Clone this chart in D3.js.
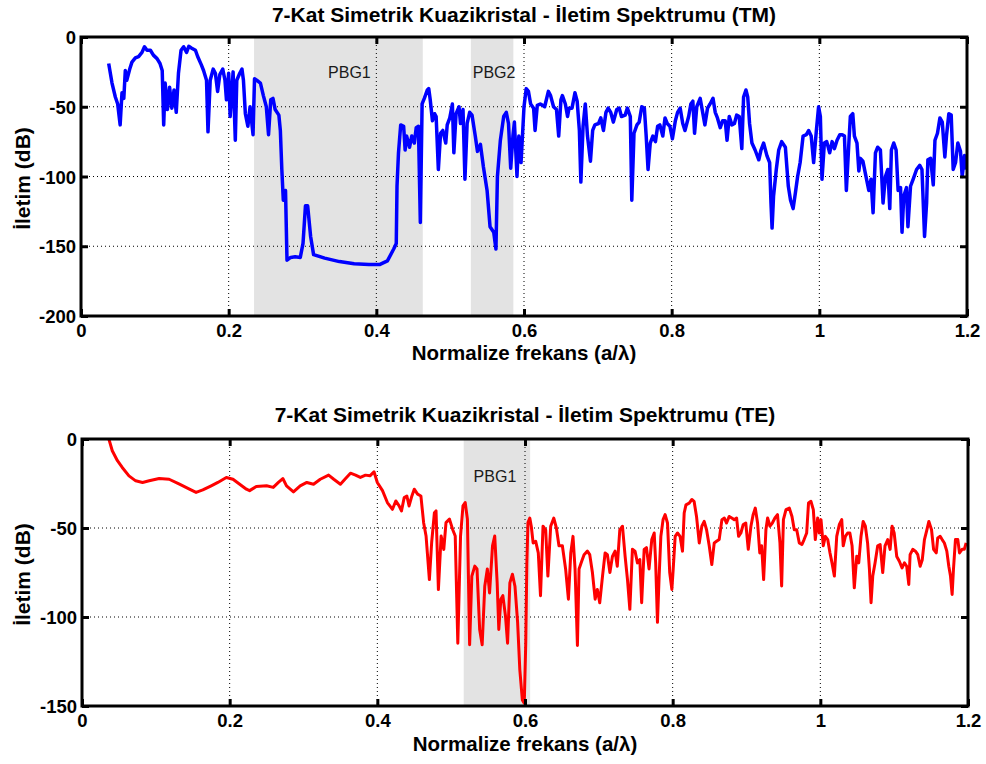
<!DOCTYPE html>
<html>
<head>
<meta charset="utf-8">
<script src="https://cdn.jsdelivr.net/npm/d3@7"></script>
<style>
  html, body { margin: 0; padding: 0; background: #fff; }
  svg { display: block; }
  text { font-family: "Liberation Sans", Arial, Helvetica, sans-serif; }
</style>
</head>
<body>
<svg id="chart" width="986" height="764"></svg>
<script>
// ---------------- DATA ----------------
const xTickValues = [0, 0.2, 0.4, 0.6, 0.8, 1, 1.2];
const xTickLabels = ["0", "0.2", "0.4", "0.6", "0.8", "1", "1.2"];
const tmYTicks = [0, -50, -100, -150, -200];
const teYTicks = [0, -50, -100, -150];

const tmTitle = "7-Kat Simetrik Kuazikristal - İletim Spektrumu (TM)";
const teTitle = "7-Kat Simetrik Kuazikristal - İletim Spektrumu (TE)";
const xLabel = "Normalize frekans (a/λ)";
const yLabel = "İletim (dB)";

// photonic band gap regions
const tmBandNames = ["PBG1", "PBG2"];
const tmBandStart = [0.2344, 0.528];
const tmBandEnd = [0.4629, 0.5856];
const teBandNames = ["PBG1"];
const teBandStart = [0.517];
const teBandEnd = [0.607];

// TM transmission spectrum
const tmFreq = [
  0.0375,0.042,0.0465,0.0497,0.053,0.0555,0.058,0.060,0.062,0.066,
  0.069,0.0736,0.078,0.0826,0.086,0.0894,0.094,0.098,0.103,0.107,
  0.110,0.112,0.114,0.117,0.120,0.123,0.126,0.129,0.132,0.1355,
  0.139,0.143,0.146,0.150,0.155,0.158,0.163,0.166,0.170,0.172,
  0.175,0.179,0.182,0.185,0.188,0.192,0.195,0.197,0.200,0.202,
  0.206,0.209,0.211,0.215,0.218,0.220,0.2226,0.226,0.229,0.233,
  0.235,0.238,0.243,0.247,0.251,0.254,0.257,0.260,0.263,0.268,
  0.270,0.272,0.274,0.277,0.279,0.284,0.290,0.297,0.3007,0.304,
  0.307,0.311,0.315,0.330,0.350,0.370,0.390,0.405,0.415,0.4235,
  0.427,0.428,0.430,0.433,0.437,0.439,0.441,0.445,0.448,0.4515,
  0.454,0.457,0.4596,0.462,0.465,0.469,0.471,0.473,0.476,0.479,
  0.481,0.484,0.487,0.490,0.494,0.496,0.4995,0.503,0.505,0.508,
  0.512,0.514,0.5174,0.520,0.523,0.5264,0.5296,0.534,0.537,0.541,
  0.545,0.550,0.554,0.559,0.562,0.564,0.568,0.5725,0.576,0.579,
  0.582,0.585,0.587,0.5905,0.593,0.596,0.600,0.603,0.606,0.609,
  0.613,0.615,0.618,0.622,0.625,0.628,0.633,0.636,0.640,0.644,
  0.647,0.650,0.652,0.656,0.659,0.661,0.665,0.669,0.672,0.675,
  0.677,0.680,0.683,0.686,0.690,0.693,0.696,0.701,0.704,0.7076,
  0.711,0.714,0.7175,0.721,0.7256,0.729,0.732,0.737,0.740,0.744,
  0.746,0.749,0.753,0.756,0.7595,0.763,0.7655,0.768,0.771,0.7745,
  0.778,0.781,0.784,0.788,0.791,0.794,0.7976,0.801,0.805,0.808,
  0.8115,0.815,0.818,0.823,0.826,0.8287,0.831,0.834,0.8386,0.842,
  0.845,0.8486,0.852,0.856,0.859,0.862,0.8658,0.869,0.8725,0.875,
  0.878,0.8816,0.885,0.888,0.8915,0.895,0.8974,0.9006,0.903,0.9055,
  0.9087,0.913,0.918,0.921,0.9245,0.929,0.9327,0.9345,0.936,0.938,
  0.9417,0.945,0.949,0.954,0.958,0.961,0.9645,0.9675,0.9706,0.974,
  0.978,0.9824,0.9855,0.989,0.9923,0.996,0.999,1.0014,1.0036,1.0068,
  1.010,1.014,1.0173,1.0205,1.024,1.0277,1.031,1.034,1.0366,1.040,
  1.042,1.0453,1.0475,1.051,1.0535,1.0556,1.059,1.0624,1.067,1.070,
  1.0728,1.076,1.079,1.0827,1.0863,1.0895,1.0927,1.0954,1.0976,1.1008,
  1.104,1.1067,1.110,1.112,1.1144,1.118,1.120,1.1235,1.127,1.1317,
  1.136,1.139,1.1425,1.1453,1.147,1.1507,1.1543,1.1566,1.160,1.1633,
  1.1665,1.170,1.1722,1.1754,1.1786,1.1813,1.1845,1.1876,1.1912,1.1935,
  1.1966,1.199
];
const tmDb = [
  -19,-33,-43,-48,-63,-40,-44,-24,-31,-23,
  -18,-15,-14,-11,-7,-9.5,-9.5,-13,-15.5,-19,
  -24,-63,-33,-52,-36,-51,-38,-54,-26,-9.5,
  -7,-11,-6.7,-8,-9.5,-14,-20,-24,-31,-68,
  -31,-23,-26,-39,-27,-23,-31,-45,-26,-57,
  -25,-74,-31,-26,-23,-31,-55,-64,-50,-70,
  -30,-31,-33,-42,-50,-70,-45,-44,-52,-56,
  -67,-95,-117,-110,-160,-158,-157.6,-158,-148,-121,
  -121,-143,-156,-158.5,-161,-162.5,-163,-163,-160.5,-152,
  -148,-107,-83,-63,-64,-81,-71,-79,-71,-76,
  -65,-64,-133,-48,-44,-38,-37,-45,-60,-55,
  -57,-95,-69,-67,-76,-63,-58,-48,-83,-55,
  -50,-62,-52,-102,-62,-54,-56,-71,-82,-77,
  -93,-110,-136,-140,-152,-100,-74,-57,-54,-62,
  -94,-71,-61,-100,-71,-90,-50,-37,-39,-48,
  -51,-67,-49,-48,-49,-50,-39,-42,-50,-52,
  -71,-45,-42,-48,-57,-51,-51,-40,-46,-67,
  -104,-64,-48,-71,-89,-67,-63,-62,-58,-67,
  -54,-51,-54,-61,-52,-51,-57,-56,-51,-57,
  -117,-69,-63,-61,-50,-51,-71,-95,-76,-71,
  -75,-64,-63,-71,-58,-62,-64,-73,-60,-54,
  -51,-62,-67,-57,-48,-46,-69,-50,-44,-54,
  -63,-51,-48,-44,-54,-58,-65,-60,-60,-74,
  -57,-63,-62,-56,-57,-80,-43,-38,-43,-62,
  -76,-81,-88,-81,-76,-85,-90,-119,-137,-114,
  -95,-81,-75,-79,-107,-117,-123,-112,-100,-90,
  -71,-70,-67,-71,-90,-67,-50,-57,-102,-76,
  -75,-83,-75,-80,-74,-70,-70,-71,-110,-76,
  -57,-55,-71,-76,-96,-87,-89,-98,-110,-102,
  -126,-83,-79,-81,-119,-100,-95,-123,-81,-76,
  -81,-110,-108,-140,-114,-108,-136,-107,-102,-95,
  -92,-95,-143,-119,-88,-87,-106,-74,-69,-58,
  -61,-86,-71,-55,-56,-95,-90,-76,-82,-100,
  -85,-95
];

// TE transmission spectrum
const teFreq = [
  0.0364,0.041,0.048,0.0545,0.0636,0.0727,0.082,0.091,0.1045,0.118,
  0.132,0.1455,0.1545,0.1636,0.175,0.184,0.1955,0.2045,0.2136,0.2227,
  0.227,0.236,0.250,0.259,0.266,0.272,0.277,0.2864,0.2955,0.3045,
  0.3136,0.3227,0.334,0.341,0.350,0.357,0.3636,0.3705,0.377,0.384,
  0.390,0.3955,0.400,0.407,0.4136,0.4205,0.425,0.4295,0.4327,0.4364,
  0.440,0.443,0.4468,0.450,0.4545,0.459,0.4627,0.466,0.4705,0.4736,
  0.4773,0.4795,0.4827,0.4864,0.490,0.493,0.4977,0.502,0.5055,0.509,
  0.5127,0.516,0.519,0.522,0.525,0.528,0.532,0.535,0.5386,0.542,
  0.5455,0.549,0.552,0.556,0.559,0.5623,0.5645,0.5673,0.570,0.5736,
  0.5764,0.5795,0.583,0.5864,0.590,0.593,0.5964,0.599,0.601,0.6025,
  0.604,0.6065,0.6085,0.611,0.6145,0.618,0.621,0.6244,0.628,0.631,
  0.6348,0.639,0.6425,0.646,0.6506,0.655,0.6588,0.662,0.665,0.6678,
  0.671,0.6732,0.6768,0.680,0.6845,0.6877,0.6913,0.695,0.698,0.7012,
  0.705,0.7085,0.7116,0.715,0.7184,0.722,0.725,0.7284,0.732,0.7356,
  0.7388,0.742,0.7455,0.749,0.7523,0.7555,0.758,0.7614,0.7645,0.768,
  0.7717,0.775,0.777,0.7794,0.7817,0.784,0.787,0.7898,0.793,0.796,
  0.7989,0.8007,0.8034,0.8066,0.810,0.8133,0.8156,0.818,0.8224,0.826,
  0.829,0.8323,0.836,0.8395,0.8427,0.8459,0.8495,0.853,0.8563,0.8594,
  0.863,0.8667,0.870,0.873,0.8766,0.880,0.8834,0.8866,0.8893,0.8924,
  0.8956,0.899,0.9024,0.906,0.909,0.9119,0.915,0.918,0.9205,0.9232,
  0.9263,0.9286,0.9318,0.935,0.9385,0.942,0.9453,0.9476,0.950,0.9535,
  0.958,0.9616,0.9647,0.968,0.9715,0.975,0.978,0.9815,0.984,0.9873,
  0.9905,0.9932,0.9964,0.9986,1.0009,1.004,1.0068,1.010,1.0131,1.0158,
  1.019,1.0222,1.0258,1.029,1.031,1.0339,1.037,1.040,1.043,1.046,
  1.0493,1.052,1.0551,1.058,1.061,1.064,1.0665,1.0687,1.071,1.0741,
  1.0777,1.081,1.0845,1.0876,1.0913,1.0945,1.0972,1.100,1.1035,1.107,
  1.1107,1.1139,1.117,1.1198,1.1216,1.1252,1.1288,1.132,1.1352,1.138,
  1.141,1.1443,1.147,1.1506,1.1534,1.157,1.159,1.1623,1.165,1.168,
  1.1713,1.174,1.1763,1.1785,1.1803,1.183,1.1862,1.1885,1.192,1.195,
  1.1975
];
const teDb = [
  0,-6.6,-12.2,-16,-20.7,-23.5,-24.4,-23.5,-22.2,-22.6,
  -25.4,-28.2,-30,-28.6,-26.3,-24.4,-21.6,-22.6,-25.4,-28.2,
  -29,-26.7,-26.3,-27.2,-24.4,-22.2,-26.3,-29.7,-26.3,-24.4,
  -25.4,-22.6,-20.3,-22.6,-25.4,-22.2,-19.2,-20.3,-21.6,-20.3,
  -20.7,-18.4,-24.4,-29,-35.7,-39.5,-34.8,-37.6,-40.4,-32.9,
  -32,-37.6,-32,-28.2,-31,-32,-47,-54.5,-79,-58,
  -41.4,-40.4,-84.6,-54.5,-62,-47,-45,-50.8,-54.5,-114.7,
  -54.5,-37.6,-35.7,-45,-115.6,-77,-71.4,-73,-107,-115.6,
  -82.7,-73,-86.5,-60,-54.5,-80.8,-107,-90,-88,-99.6,
  -114.7,-80.8,-76,-82.7,-103,-129.7,-146.6,-148.5,-115,-70,
  -47,-44.4,-49,-58.4,-57.5,-64,-88,-49,-51,-77,
  -49,-44.4,-50,-60,-60,-73,-90,-64,-54.7,-73,
  -116,-73,-68.7,-65,-63,-65,-75,-90,-84.5,-92,
  -77,-64,-65,-75,-66,-63,-71.5,-51,-49,-66,
  -79,-95.7,-62,-63,-69.6,-67.7,-92,-62,-61,-73,
  -56.5,-52.8,-69.6,-103,-77,-54.7,-45.3,-42.5,-47.2,-75,
  -84.5,-73.3,-54.7,-52.8,-54.7,-63,-41.6,-37,-36,-34,
  -35,-43.5,-58.4,-49,-46.3,-51,-60,-70.5,-58.4,-57.5,
  -56.5,-45.3,-44.4,-47.2,-43.5,-44.4,-45.3,-44.4,-54.7,-52.8,
  -48,-47.2,-62,-49,-42.5,-38.8,-47.2,-64,-60,-79,
  -51,-44.4,-49,-47.2,-44.4,-42.5,-58.4,-82.6,-45.3,-39.7,
  -38.8,-43.5,-51,-51,-58.4,-59.3,-56.5,-52.8,-36,-35,
  -39.7,-56.5,-44.4,-52.8,-45.3,-60,-54.7,-56.5,-64,-69.6,
  -77,-54.7,-48,-45.3,-60,-54.7,-52.8,-52.8,-60,-83.6,
  -65.9,-69.6,-54.7,-46.3,-49,-58.4,-73.3,-92,-77,-69.6,
  -60,-59.3,-75,-60,-56.5,-62,-49,-52.8,-66,-68.7,
  -72.4,-69.6,-71.5,-81.7,-65,-62,-63,-65,-71.5,-68,
  -56.5,-51,-46.3,-51,-62,-64,-55.6,-54.7,-56.5,-58.4,
  -63,-71.5,-77,-87.3,-73.3,-56.5,-56.5,-64,-62,-62,
  -58.4
];

// ---------------- DRAWING ----------------
const svg = d3.select("#chart");
svg.append("rect").attr("width", 986).attr("height", 764).attr("fill", "#fff");

const FONT = '"Liberation Sans", Arial, Helvetica, sans-serif';

function drawPanel(opt) {
  const { left, right, top, bottom, yDomain, yTicks, freq, db, color, lineWidth,
          bandNames, bandStart, bandEnd, labelShift, title, id } = opt;
  const x = d3.scaleLinear().domain([0, 1.2]).range([left, right]);
  const y = d3.scaleLinear().domain(yDomain).range([bottom, top]);
  const g = svg.append("g");

  svg.append("clipPath").attr("id", "clip" + id)
    .append("rect").attr("x", left).attr("y", top)
    .attr("width", right - left).attr("height", bottom - top);

  // band shading
  bandNames.forEach((name, i) => {
    g.append("rect")
      .attr("x", x(bandStart[i])).attr("y", top)
      .attr("width", x(bandEnd[i]) - x(bandStart[i]))
      .attr("height", bottom - top)
      .attr("fill", "#e3e3e3");
  });

  // grid
  const gridG = g.append("g").attr("stroke", "#000").attr("stroke-width", 1)
    .attr("stroke-dasharray", "1,3");
  xTickValues.slice(1, -1).forEach(v => {
    gridG.append("line").attr("x1", x(v)).attr("x2", x(v))
      .attr("y1", top).attr("y2", bottom);
  });
  yTicks.slice(1, -1).forEach(v => {
    gridG.append("line").attr("x1", left).attr("x2", right)
      .attr("y1", y(v)).attr("y2", y(v));
  });

  // band labels
  bandNames.forEach((name, i) => {
    const cx = (x(bandStart[i]) + x(bandEnd[i])) / 2 + labelShift[i];
    g.append("text").attr("x", cx).attr("y", top + opt.labelDy)
      .attr("text-anchor", "middle")
      .attr("font-size", 16).attr("fill", "#1a1a1a")
      .style("font-family", FONT)
      .text(name);
  });

  // data line
  const pts = freq.map((f, i) => [f, db[i]]);
  g.append("path").datum(pts)
    .attr("clip-path", "url(#clip" + id + ")")
    .attr("fill", "none").attr("stroke", color)
    .attr("stroke-width", lineWidth)
    .attr("stroke-linejoin", "round")
    .attr("d", d3.line().x(d => x(d[0])).y(d => y(d[1])));

  // axes (ticks inside, box)
  const fmt = (v) => xTickLabels[xTickValues.indexOf(v)];
  const axB = g.append("g").attr("transform", `translate(0,${bottom})`)
    .call(d3.axisBottom(x).tickValues(xTickValues).tickFormat(fmt)
      .tickSizeInner(-7).tickSizeOuter(0).tickPadding(8));
  const axT = g.append("g").attr("transform", `translate(0,${top})`)
    .call(d3.axisTop(x).tickValues(xTickValues).tickFormat(() => "")
      .tickSizeInner(-7).tickSizeOuter(0));
  const axL = g.append("g").attr("transform", `translate(${left},0)`)
    .call(d3.axisLeft(y).tickValues(yTicks).tickFormat(d => String(d))
      .tickSizeInner(-7).tickSizeOuter(0).tickPadding(5));
  const axR = g.append("g").attr("transform", `translate(${right},0)`)
    .call(d3.axisRight(y).tickValues(yTicks).tickFormat(() => "")
      .tickSizeInner(-7).tickSizeOuter(0));
  [axB, axT, axL, axR].forEach(a => {
    a.select(".domain").remove();
    a.selectAll(".tick line").attr("stroke", "#000").attr("stroke-width", 3);
    a.selectAll(".tick text").attr("fill", "#000")
      .style("font-family", FONT).style("font-weight", "bold")
      .style("font-size", "18.5px");
  });
  axL.selectAll(".tick text").attr("dy", "0.36em");

  g.append("rect").attr("x", left).attr("y", top)
    .attr("width", right - left).attr("height", bottom - top)
    .attr("fill", "none").attr("stroke", "#000").attr("stroke-width", 3);

  // title
  g.append("text").attr("x", (left + right) / 2).attr("y", opt.titleY)
    .attr("text-anchor", "middle").style("font-family", FONT)
    .style("font-weight", "bold").style("font-size", "21px")
    .text(title);
  // x label
  g.append("text").attr("x", (left + right) / 2).attr("y", opt.xLabelY)
    .attr("text-anchor", "middle").style("font-family", FONT)
    .style("font-weight", "bold").style("font-size", "20.5px")
    .text(xLabel);
  // y label
  g.append("text")
    .attr("transform", `translate(30,${(top + bottom) / 2 + 2}) rotate(-90)`)
    .attr("text-anchor", "middle").style("font-family", FONT)
    .style("font-weight", "bold").style("font-size", "21px")
    .text(yLabel);
}

drawPanel({
  id: "tm", left: 81, right: 967, top: 37, bottom: 316,
  yDomain: [-200, 0], yTicks: tmYTicks,
  freq: tmFreq, db: tmDb, color: "#0000ff", lineWidth: 3.5,
  bandNames: tmBandNames, bandStart: tmBandStart, bandEnd: tmBandEnd,
  labelShift: [11, 2], labelDy: 41,
  title: tmTitle, titleY: 22, xLabelY: 360
});
drawPanel({
  id: "te", left: 82, right: 968, top: 439, bottom: 706,
  yDomain: [-150, 0], yTicks: teYTicks,
  freq: teFreq, db: teDb, color: "#ff0000", lineWidth: 3,
  bandNames: teBandNames, bandStart: teBandStart, bandEnd: teBandEnd,
  labelShift: [-2], labelDy: 43,
  title: teTitle, titleY: 422, xLabelY: 751
});
</script>
</body>
</html>
